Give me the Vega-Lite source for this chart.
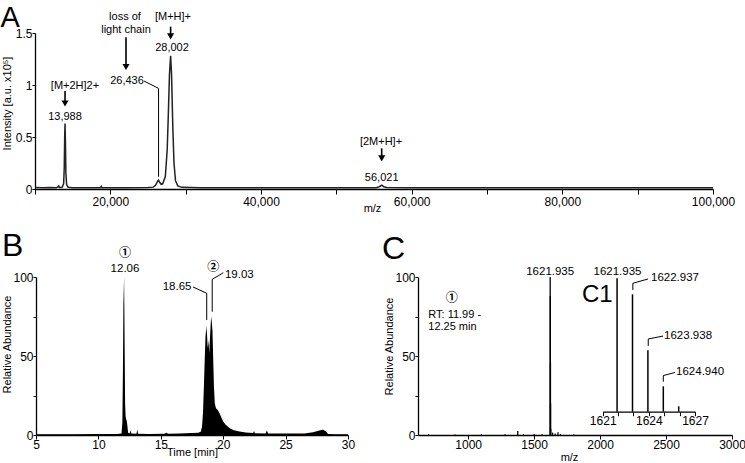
{
  "$schema": "https://vega.github.io/schema/vega-lite/v6.json",
  "width": 745,
  "height": 463,
  "autosize": "none",
  "padding": 0,
  "background": "white",
  "config": {
    "view": {"stroke": null},
    "font": "Liberation Sans",
    "text": {"font": "Liberation Sans", "fontSize": 11, "color": "black"},
    "axis": {
      "grid": false,
      "domainColor": "black",
      "domainWidth": 1.3,
      "tickColor": "black",
      "tickWidth": 1,
      "tickSize": 4,
      "labelColor": "black",
      "labelFont": "Liberation Sans",
      "labelFontSize": 12,
      "labelPadding": 0,
      "labelFlush": false,
      "labelOverlap": false,
      "titleColor": "black",
      "titleFont": "Liberation Sans",
      "titleFontSize": 11,
      "titleFontWeight": "normal"
    }
  },
  "resolve": {
    "scale": {"x": "independent", "y": "independent"},
    "axis": {"x": "independent", "y": "independent"}
  },
  "layer": [
    {
      "encoding": {
        "x": {
          "field": "x", "type": "quantitative",
          "scale": {"domain": [10000, 100000], "range": [35, 713], "nice": false, "zero": false},
          "axis": {
            "orient": "bottom", "offset": -274, "title": "m/z",
            "values": [10000, 20000, 30000, 40000, 50000, 60000, 70000, 80000, 90000, 100000],
            "labelExpr": "datum.value % 20000 === 0 ? format(datum.value, ',') : ''",
            "tickSize": 5, "labelPadding": 2,
            "titleX": 372, "titleY": 22, "titleBaseline": "alphabetic"
          }
        },
        "y": {
          "field": "y", "type": "quantitative",
          "scale": {"domain": [0, 1.5], "range": [189, 33], "nice": false, "zero": false},
          "axis": {
            "orient": "left", "offset": -35, "title": "Intensity [a.u. x10⁵]",
            "values": [0, 0.5, 1, 1.5], "format": ".1~f", "tickSize": 3,
            "titleX": -28, "titleY": 103, "titleAngle": 270, "titleBaseline": "middle", "titleAlign": "center"
          }
        }
      },
      "layer": [
        {
          "data": {"values": [
            {"x": 10000, "y": 0.015}, {"x": 11000, "y": 0.012}, {"x": 12000, "y": 0.014}, {"x": 12800, "y": 0.013},
            {"x": 13050, "y": 0.02}, {"x": 13150, "y": 0.03}, {"x": 13250, "y": 0.015}, {"x": 13600, "y": 0.016},
            {"x": 13800, "y": 0.05}, {"x": 13880, "y": 0.2}, {"x": 13940, "y": 0.5}, {"x": 13988, "y": 0.63},
            {"x": 14040, "y": 0.45}, {"x": 14100, "y": 0.15}, {"x": 14200, "y": 0.04}, {"x": 14400, "y": 0.016},
            {"x": 15000, "y": 0.013}, {"x": 17000, "y": 0.012}, {"x": 18700, "y": 0.013}, {"x": 18800, "y": 0.025},
            {"x": 18900, "y": 0.013}, {"x": 22000, "y": 0.012}, {"x": 25000, "y": 0.014}, {"x": 25700, "y": 0.018},
            {"x": 26000, "y": 0.035}, {"x": 26250, "y": 0.07}, {"x": 26400, "y": 0.085}, {"x": 26550, "y": 0.065},
            {"x": 26750, "y": 0.045}, {"x": 26950, "y": 0.05}, {"x": 27300, "y": 0.12}, {"x": 27550, "y": 0.38},
            {"x": 27700, "y": 0.72}, {"x": 27850, "y": 1.1}, {"x": 28002, "y": 1.28}, {"x": 28120, "y": 1.12},
            {"x": 28300, "y": 0.58}, {"x": 28450, "y": 0.25}, {"x": 28650, "y": 0.08}, {"x": 28950, "y": 0.03},
            {"x": 29500, "y": 0.016}, {"x": 32000, "y": 0.013}, {"x": 40000, "y": 0.012}, {"x": 50000, "y": 0.012},
            {"x": 55300, "y": 0.013}, {"x": 55700, "y": 0.022}, {"x": 56021, "y": 0.036}, {"x": 56300, "y": 0.022},
            {"x": 56700, "y": 0.014}, {"x": 60000, "y": 0.012}, {"x": 70000, "y": 0.012}, {"x": 80000, "y": 0.012},
            {"x": 90000, "y": 0.012}, {"x": 100000, "y": 0.012}
          ]},
          "mark": {"type": "line", "color": "#222", "strokeWidth": 1.5}
        },
        {
          "data": {"values": [
            {"x": 13988, "y": 0.942, "y2": 0.84},
            {"x": 22080, "y": 1.459, "y2": 1.19},
            {"x": 28002, "y": 1.561, "y2": 1.49},
            {"x": 56021, "y": 0.391, "y2": 0.31}
          ]},
          "mark": {"type": "rule", "color": "black", "strokeWidth": 1.6},
          "encoding": {"y2": {"field": "y2"}}
        },
        {
          "data": {"values": [
            {"x": 13988, "y": 0.822}, {"x": 22080, "y": 1.173}, {"x": 28002, "y": 1.468}, {"x": 56021, "y": 0.295}
          ]},
          "mark": {"type": "point", "shape": "triangle-down", "filled": true, "size": 50, "color": "black", "opacity": 1}
        },
        {
          "data": {"values": [
            {"x": 24469, "y": 1.038, "o": 1}, {"x": 26400, "y": 0.968, "o": 2}, {"x": 26400, "y": 0.118, "o": 3}
          ]},
          "mark": {"type": "line", "color": "black", "strokeWidth": 1},
          "encoding": {"order": {"field": "o"}}
        },
        {
          "data": {"values": [
            {"x": 15310, "y": 0.99, "t": "[M+2H]2+"},
            {"x": 13988, "y": 0.692, "t": "13,988"},
            {"x": 21947, "y": 1.654, "t": "loss of"},
            {"x": 22080, "y": 1.529, "t": "light chain"},
            {"x": 22213, "y": 1.038, "t": "26,436"},
            {"x": 28319, "y": 1.651, "t": "[M+H]+"},
            {"x": 28186, "y": 1.359, "t": "28,002"},
            {"x": 55929, "y": 0.455, "t": "[2M+H]+"},
            {"x": 56021, "y": 0.103, "t": "56,021"}
          ]},
          "mark": {"type": "text", "fontSize": 11, "align": "center", "baseline": "middle"},
          "encoding": {"text": {"field": "t"}}
        },
        {
          "data": {"values": [{"x": 5420, "y": 1.5625, "t": "A"}]},
          "mark": {"type": "text", "fontSize": 29, "align": "left", "baseline": "alphabetic"},
          "encoding": {"text": {"field": "t"}}
        }
      ]
    },
    {
      "encoding": {
        "x": {
          "field": "x", "type": "quantitative",
          "scale": {"domain": [5, 30], "range": [36, 348], "nice": false, "zero": false},
          "axis": {
            "orient": "bottom", "offset": -28, "title": "Time [min]",
            "values": [5, 10, 15, 20, 25, 30],
            "titleX": 192, "titleY": 20, "titleBaseline": "alphabetic"
          }
        },
        "y": {
          "field": "y", "type": "quantitative",
          "scale": {"domain": [0, 100], "range": [435, 277], "nice": false, "zero": false},
          "axis": {
            "orient": "left", "offset": -36, "title": "Relative Abundance",
            "values": [0, 25, 50, 75, 100], "labelExpr": "datum.value % 50 === 0 ? datum.label : ''", "tickSize": 3,
            "titleX": -29, "titleY": 344, "titleAngle": 270, "titleBaseline": "middle", "titleAlign": "center"
          }
        }
      },
      "layer": [
        {
          "data": {"values": [
            {"x": 5, "y": 0.4}, {"x": 6, "y": 0.5}, {"x": 8, "y": 0.5}, {"x": 10, "y": 0.6}, {"x": 11.5, "y": 0.6},
            {"x": 11.85, "y": 1}, {"x": 11.92, "y": 8}, {"x": 11.97, "y": 45}, {"x": 12.0, "y": 82}, {"x": 12.06, "y": 100},
            {"x": 12.1, "y": 60}, {"x": 12.14, "y": 20}, {"x": 12.18, "y": 12}, {"x": 12.22, "y": 10}, {"x": 12.27, "y": 9},
            {"x": 12.32, "y": 6}, {"x": 12.38, "y": 1.5}, {"x": 12.5, "y": 1}, {"x": 12.58, "y": 3}, {"x": 12.64, "y": 1},
            {"x": 13.05, "y": 0.8}, {"x": 13.12, "y": 3.5}, {"x": 13.18, "y": 0.8}, {"x": 14, "y": 0.7}, {"x": 15.3, "y": 0.8},
            {"x": 15.45, "y": 1.4}, {"x": 15.6, "y": 0.8}, {"x": 16.5, "y": 1}, {"x": 17.5, "y": 1.2}, {"x": 18.0, "y": 1.5},
            {"x": 18.2, "y": 2}, {"x": 18.3, "y": 5}, {"x": 18.38, "y": 14}, {"x": 18.45, "y": 30}, {"x": 18.52, "y": 48},
            {"x": 18.58, "y": 62}, {"x": 18.65, "y": 69}, {"x": 18.7, "y": 64}, {"x": 18.76, "y": 55}, {"x": 18.82, "y": 60},
            {"x": 18.88, "y": 52}, {"x": 18.95, "y": 63}, {"x": 19.03, "y": 75}, {"x": 19.08, "y": 72}, {"x": 19.14, "y": 66},
            {"x": 19.2, "y": 48}, {"x": 19.26, "y": 30}, {"x": 19.33, "y": 20}, {"x": 19.42, "y": 17}, {"x": 19.55, "y": 16},
            {"x": 19.7, "y": 14}, {"x": 19.85, "y": 11}, {"x": 20.0, "y": 8.5}, {"x": 20.2, "y": 6.5}, {"x": 20.5, "y": 4.5},
            {"x": 20.8, "y": 3.2}, {"x": 21.2, "y": 2.3}, {"x": 21.8, "y": 1.6}, {"x": 22.4, "y": 1.2}, {"x": 22.47, "y": 2.5},
            {"x": 22.54, "y": 1.1}, {"x": 23.4, "y": 1}, {"x": 23.5, "y": 2.8}, {"x": 23.6, "y": 1}, {"x": 25, "y": 0.9},
            {"x": 26.5, "y": 1}, {"x": 27.2, "y": 1.8}, {"x": 27.7, "y": 2.8}, {"x": 28.0, "y": 3.3}, {"x": 28.25, "y": 2.2},
            {"x": 28.4, "y": 0.6}, {"x": 29, "y": 0.4}, {"x": 30, "y": 0.4}
          ]},
          "mark": {"type": "area", "color": "black", "opacity": 1}
        },
        {
          "data": {"values": [
            {"x": 17.58, "y": 93.7, "o": 1, "id": "a"}, {"x": 18.68, "y": 89.7, "o": 2, "id": "a"}, {"x": 18.68, "y": 72.8, "o": 3, "id": "a"},
            {"x": 20.01, "y": 102.7, "o": 1, "id": "b"}, {"x": 19.12, "y": 98.5, "o": 2, "id": "b"}, {"x": 19.12, "y": 78, "o": 3, "id": "b"}
          ]},
          "mark": {"type": "line", "color": "black", "strokeWidth": 1},
          "encoding": {"order": {"field": "o"}, "detail": {"field": "id"}}
        },
        {
          "data": {"values": [{"x": 12.13, "y": 105.2, "t": "12.06"}]},
          "mark": {"type": "text", "fontSize": 11.5, "align": "center", "baseline": "middle"},
          "encoding": {"text": {"field": "t"}}
        },
        {
          "data": {"values": [{"x": 17.46, "y": 93.7, "t": "18.65"}]},
          "mark": {"type": "text", "fontSize": 11.5, "align": "right", "baseline": "middle"},
          "encoding": {"text": {"field": "t"}}
        },
        {
          "data": {"values": [{"x": 20.14, "y": 101.3, "t": "19.03"}]},
          "mark": {"type": "text", "fontSize": 11.5, "align": "left", "baseline": "middle"},
          "encoding": {"text": {"field": "t"}}
        },
        {
          "data": {"values": [{"x": 12.13, "y": 115.2, "t": "①"}, {"x": 19.21, "y": 106.5, "t": "②"}]},
          "mark": {"type": "text", "fontSize": 12, "font": "Noto Sans CJK JP", "fontWeight": "bold", "align": "center", "baseline": "middle"},
          "encoding": {"text": {"field": "t"}}
        },
        {
          "data": {"values": [{"x": 2.276, "y": 113, "t": "B"}]},
          "mark": {"type": "text", "fontSize": 32, "align": "left", "baseline": "alphabetic"},
          "encoding": {"text": {"field": "t"}}
        }
      ]
    },
    {
      "encoding": {
        "x": {
          "field": "x", "type": "quantitative",
          "scale": {"domain": [620, 3000], "range": [418, 732], "nice": false, "zero": false},
          "axis": {
            "orient": "bottom", "offset": -28, "title": "m/z",
            "values": [1000, 1500, 2000, 2500, 3000], "format": "d",
            "titleX": 569, "titleY": 25, "titleBaseline": "alphabetic"
          }
        },
        "y": {
          "field": "y", "type": "quantitative",
          "scale": {"domain": [0, 100], "range": [435, 277], "nice": false, "zero": false},
          "axis": {
            "orient": "left", "offset": -418, "title": "Relative Abundance",
            "values": [0, 25, 50, 75, 100], "labelExpr": "datum.value % 50 === 0 ? datum.label : ''", "tickSize": 3,
            "titleX": -29, "titleY": 346, "titleAngle": 270, "titleBaseline": "middle", "titleAlign": "center"
          }
        }
      },
      "layer": [
        {
          "data": {"values": [
            {"x": 700, "y": 0.4}, {"x": 900, "y": 0.3}, {"x": 1100, "y": 0.4}, {"x": 1280, "y": 0.5}, {"x": 1376, "y": 2.5},
            {"x": 1420, "y": 0.4}, {"x": 1500, "y": 0.6}, {"x": 1560, "y": 0.5}, {"x": 1621.935, "y": 100}, {"x": 1622.937, "y": 88},
            {"x": 1623.938, "y": 46}, {"x": 1624.94, "y": 20}, {"x": 1625.94, "y": 4}, {"x": 1640, "y": 1.5}, {"x": 1660, "y": 1.0},
            {"x": 1681, "y": 1.8}, {"x": 1700, "y": 0.5}, {"x": 1800, "y": 0.3}
          ]},
          "mark": {"type": "rule", "color": "black", "strokeWidth": 1.3},
          "encoding": {"y2": {"datum": 0}}
        },
        {
          "data": {"values": [{"x": 1621.9, "y": 103.2, "t": "1621.935"}]},
          "mark": {"type": "text", "fontSize": 11.5, "align": "center", "baseline": "middle"},
          "encoding": {"text": {"field": "t"}}
        },
        {
          "data": {"values": [{"x": 698, "y": 75.9, "t": "RT: 11.99 -"}, {"x": 698, "y": 68.5, "t": "12.25 min"}]},
          "mark": {"type": "text", "fontSize": 11, "align": "left", "baseline": "middle"},
          "encoding": {"text": {"field": "t"}}
        },
        {
          "data": {"values": [{"x": 875, "y": 86.5, "t": "①"}]},
          "mark": {"type": "text", "fontSize": 12, "font": "Noto Sans CJK JP", "fontWeight": "bold", "align": "center", "baseline": "middle"},
          "encoding": {"text": {"field": "t"}}
        },
        {
          "data": {"values": [{"x": 347, "y": 111.4, "t": "C"}]},
          "mark": {"type": "text", "fontSize": 32, "align": "left", "baseline": "alphabetic"},
          "encoding": {"text": {"field": "t"}}
        }
      ]
    },
    {
      "encoding": {
        "x": {
          "field": "x", "type": "quantitative",
          "scale": {"domain": [1621, 1627], "range": [602.7, 695], "nice": false, "zero": false},
          "axis": {
            "orient": "bottom", "offset": -51.3, "title": null,
            "values": [1621, 1622, 1623, 1624, 1625, 1626, 1627], "format": "d",
            "labelExpr": "(datum.value - 1621) % 3 === 0 ? datum.label : ''",
            "tickSize": 4
          }
        },
        "y": {
          "field": "y", "type": "quantitative",
          "scale": {"domain": [0, 100], "range": [411.7, 278.3], "nice": false, "zero": false},
          "axis": null
        }
      },
      "layer": [
        {
          "data": {"values": [
            {"x": 1621.935, "y": 100}, {"x": 1622.937, "y": 88}, {"x": 1623.938, "y": 46}, {"x": 1624.94, "y": 19}, {"x": 1625.94, "y": 4}
          ]},
          "mark": {"type": "rule", "color": "black", "strokeWidth": 1.5},
          "encoding": {"y2": {"datum": 0}}
        },
        {
          "data": {"values": [
            {"x": 1623.95, "y": 99.5, "o": 1, "id": "a"}, {"x": 1622.96, "y": 96.3, "o": 2, "id": "a"}, {"x": 1622.96, "y": 91.2, "o": 3, "id": "a"},
            {"x": 1624.92, "y": 56.7, "o": 1, "id": "b"}, {"x": 1623.96, "y": 54.5, "o": 2, "id": "b"}, {"x": 1623.96, "y": 49.3, "o": 3, "id": "b"},
            {"x": 1625.7, "y": 29.4, "o": 1, "id": "c"}, {"x": 1624.94, "y": 27.1, "o": 2, "id": "c"}, {"x": 1624.94, "y": 22.5, "o": 3, "id": "c"}
          ]},
          "mark": {"type": "line", "color": "black", "strokeWidth": 1},
          "encoding": {"order": {"field": "o"}, "detail": {"field": "id"}}
        },
        {
          "data": {"values": [{"x": 1621.96, "y": 105, "t": "1621.935"}]},
          "mark": {"type": "text", "fontSize": 11.5, "align": "center", "baseline": "middle"},
          "encoding": {"text": {"field": "t"}}
        },
        {
          "data": {"values": [
            {"x": 1624.14, "y": 100.2, "t": "1622.937"},
            {"x": 1624.99, "y": 56.7, "t": "1623.938"},
            {"x": 1625.77, "y": 29.4, "t": "1624.940"}
          ]},
          "mark": {"type": "text", "fontSize": 11.5, "align": "left", "baseline": "middle"},
          "encoding": {"text": {"field": "t"}}
        },
        {
          "data": {"values": [{"x": 1619.65, "y": 82.2, "t": "C1"}]},
          "mark": {"type": "text", "fontSize": 24, "align": "left", "baseline": "alphabetic"},
          "encoding": {"text": {"field": "t"}}
        }
      ]
    }
  ]
}
